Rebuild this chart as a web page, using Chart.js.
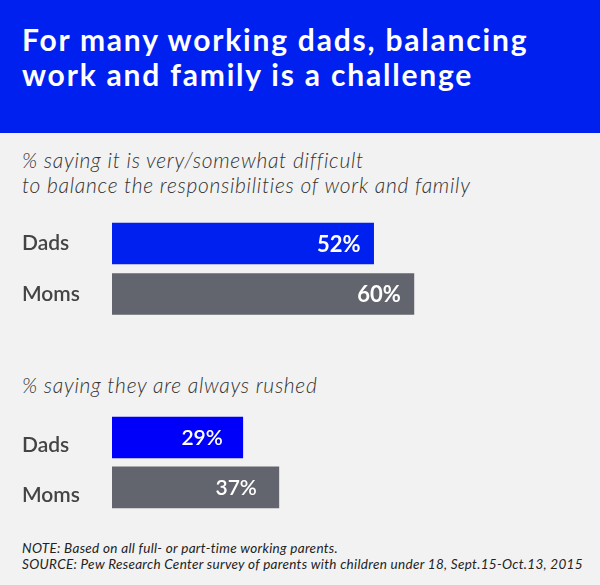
<!DOCTYPE html>
<html>
<head>
<meta charset="utf-8">
<script src="https://cdn.jsdelivr.net/npm/chart.js@4.4.1/dist/chart.umd.min.js"></script>
<style>
  html, body { margin: 0; padding: 0; }
  body { width: 600px; height: 585px; background: #f2f2f2; position: relative; overflow: hidden; font-family: 'Lato', 'Noto Sans', sans-serif; }
  #banner { position: absolute; left: 0; top: 0; width: 600px; height: 133px; background: rgb(0,32,240); }
  #title { position: absolute; left: 22px; top: 22px; color: #fff; font-weight: 700; font-size: 30px; line-height: 35px; letter-spacing: 1.8px; white-space: nowrap; }
  .sub { position: absolute; left: 22px; color: #333; font-style: italic; font-weight: 300; font-size: 21px; line-height: 25px; letter-spacing: 0.7px; white-space: nowrap; }
  #note { position: absolute; left: 22px; top: 540px; color: #222; font-style: italic; font-size: 13.5px; line-height: 16px; letter-spacing: 0.3px; white-space: nowrap; }
  .cw { position: absolute; left: 0; width: 600px; }
</style>
</head>
<body>
<div id="banner"><div id="title">For many working dads, balancing<br>work and family is a challenge</div></div>
<div class="sub" style="top:147px">% saying it is very/somewhat difficult<br>to balance the responsibilities of work and family</div>
<div class="cw" style="top:200px;height:140px"><canvas id="c1" width="600" height="140"></canvas></div>
<div class="sub" style="top:372px">% saying they are always rushed</div>
<div class="cw" style="top:400px;height:130px"><canvas id="c2" width="600" height="130"></canvas></div>
<div id="note">NOTE: Based on all full- or part-time working parents.<br>SOURCE: Pew Research Center survey of parents with children under 18, Sept.15-Oct.13, 2015</div>
<script>
const categories = ['Dads', 'Moms'];
const difficultValues = [52, 60];
const rushedValues = [29, 37];
const difficultColors = ['rgb(0,32,240)', 'rgb(98,101,109)'];
const rushedColors = ['rgb(0,0,250)', 'rgb(98,101,109)'];

function valueLabels(offset, weight, size) {
  return {
    id: 'valueLabels',
    afterDatasetsDraw(chart) {
      const ctx = chart.ctx;
      const meta = chart.getDatasetMeta(0);
      const data = chart.data.datasets[0].data;
      ctx.save();
      ctx.fillStyle = '#fff';
      ctx.font = weight + ' ' + size + 'px Lato, "Noto Sans", sans-serif';
      ctx.textAlign = 'right';
      ctx.textBaseline = 'middle';
      meta.data.forEach((bar, i) => {
        ctx.fillText(data[i] + '%', bar.x - offset[i], bar.y + 1);
      });
      ctx.restore();
    }
  };
}

function makeChart(id, values, colors, max, pad, labelOffset, offs, weight, size) {
  return new Chart(document.getElementById(id), {
    type: 'bar',
    data: { labels: categories, datasets: [{ data: values, backgroundColor: colors, barThickness: 41 }] },
    options: {
      indexAxis: 'y',
      responsive: false,
      animation: false,
      layout: { padding: { left: 22, right: 10, top: pad[0], bottom: pad[1] } },
      plugins: { legend: { display: false }, tooltip: { enabled: false } },
      scales: {
        x: { display: false, min: 0, max: max },
        y: {
          grid: { display: false }, border: { display: false },
          afterFit(scale) { scale.width = 90; },
          ticks: { crossAlign: 'far', color: '#444', labelOffset: labelOffset, padding: 0,
                   font: { family: 'Lato, "Noto Sans", sans-serif', size: 21, weight: '600' } }
        }
      }
    },
    plugins: [valueLabels(offs, weight, size)]
  });
}

makeChart('c1', difficultValues, difficultColors, 95, [18.25, 20.75], 0, [13, 13], 'bold', 22);
makeChart('c2', rushedValues, rushedColors, 106, [12.3, 17.7], 8, [20, 22], '600', 21);
</script>
</body>
</html>
